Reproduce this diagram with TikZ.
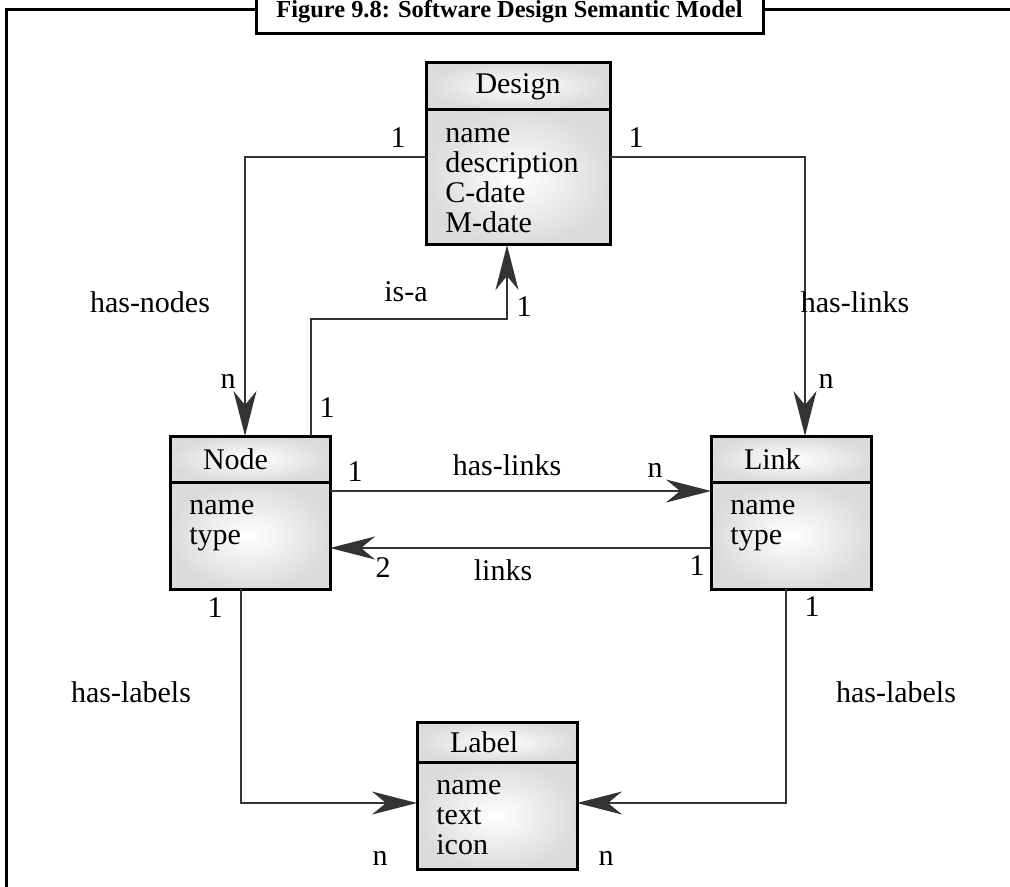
\documentclass[tikz,border=0pt]{standalone}
\usepackage{fontspec}
\setmainfont{Liberation Serif}
\newfontfamily\diagfont{Liberation Serif}
\usepackage{tikz}
\usetikzlibrary{calc, positioning, arrows.meta}

\tikzset{
  classhead/.style={draw, line width=1.5pt, outer sep=0pt, shading=radial,
    inner color=white, outer color=black!14, font=\diagfont\fontsize{15}{15}\selectfont,
    inner sep=0pt},
  lefthead/.style={classhead, inner xsep=16.5pt, text width=47pt, align=left},
  attr/.style={anchor=north west, align=left, inner sep=0pt, xshift=9.5pt,
    yshift=-9pt, font=\diagfont\fontsize{15}{15}\selectfont},
  assoc/.style={draw=black!80, line width=0.7pt,
    -{Stealth[length=22.5pt, width=11.5pt, inset=7pt]}},
  lbl/.style={font=\diagfont\fontsize{15}{15}\selectfont, inner sep=0pt},
  frame/.style={line width=1.5pt},
}

\begin{document}
\begin{tikzpicture}[x=0.5pt, y=-0.5pt]
    \path[use as bounding box, clip] (0,0) rectangle (1010,887);

    % 1. Frame and title
    \draw[frame] (6,900) -- (6,10) -- (256,10);
    \draw[frame] (763,10) -- (1020,10);
    \node[draw, frame, fill=white, minimum width=253.5pt, minimum height=22pt,
        inner sep=0pt, font=\diagfont\bfseries\fontsize{12.2}{12.2}\selectfont]
        (title) at (509.5,12) {Figure 9.8: Software Design Semantic Model};

    % 2. Classes
    \node[classhead, minimum width=92pt, minimum height=23.5pt] (design) at (518,86.5) {Design};
    \node[classhead, minimum width=92pt, minimum height=67.5pt, below=0pt of design] (designBody) {};
    \node[attr] (designAttr) at (designBody.north west) {name\\description\\C-date\\M-date};

    \node[lefthead, minimum width=80pt, minimum height=23pt] (node) at (250,459) {Node};
    \node[classhead, minimum width=80pt, minimum height=53.5pt, below=0pt of node] (nodeBody) {};
    \node[attr] (nodeAttr) at (nodeBody.north west) {name\\type};

    \node[lefthead, minimum width=80pt, minimum height=23pt] (link) at (791,459) {Link};
    \node[classhead, minimum width=80pt, minimum height=53.5pt, below=0pt of link] (linkBody) {};
    \node[attr] (linkAttr) at (linkBody.north west) {name\\type};

    \node[lefthead, minimum width=80pt, minimum height=20pt] (label) at (497,742) {Label};
    \node[classhead, minimum width=80pt, minimum height=53.5pt, below=0pt of label] (labelBody) {};
    \node[attr] (labelAttr) at (labelBody.north west) {name\\text\\icon};

    % 3. Associations
    \draw[assoc] ($(designBody.west)+(0,-20.5)$) -| ($(node.north)+(-5,0)$);
    \draw[assoc] ($(designBody.east)+(0,-20.5)$) -| ($(link.north)+(14,0)$);
    \draw[assoc] ($(node.north)+(61,0)$) -- ++(0,-117) -| ($(designBody.south)+(-11,0)$);
    \draw[assoc] ($(nodeBody.east)+(0,-44.5)$) -- ($(linkBody.west)+(0,-44.5)$);
    \draw[assoc] ($(linkBody.west)+(0,12.5)$) -- ($(nodeBody.east)+(0,12.5)$);
    \draw[assoc] ($(nodeBody.south)+(-9,0)$) |- ($(labelBody.west)+(0,-12.5)$);
    \draw[assoc] ($(linkBody.south)+(-5,0)$) |- ($(labelBody.east)+(0,-12.5)$);

    % 4. Role names
    \node[lbl] (hasNodes) at (150,302) {has-nodes};
    \node[lbl] (hasLinksTop) at (855,302) {has-links};
    \node[lbl] (isA) at (406,292) {is-a};
    \node[lbl] (hasLinks) at (507,465) {has-links};
    \node[lbl] (links) at (503,570) {links};
    \node[lbl] (hasLabelsL) at (131,692) {has-labels};
    \node[lbl] (hasLabelsR) at (896,692) {has-labels};

    % 5. Multiplicities
    \foreach \x/\y/\m [count=\i] in {398/138/1, 636/138/1, 228/381/n, 826/381/n,
        524/307/1, 327/408/1, 355/472/1, 655/470/n, 383/568/2, 697/566/1,
        215/608/1, 812/607/1, 380/858/n, 606/858/n} {
        \node[lbl] (mult\i) at (\x,\y) {\m};
    }
\end{tikzpicture}
\end{document}
